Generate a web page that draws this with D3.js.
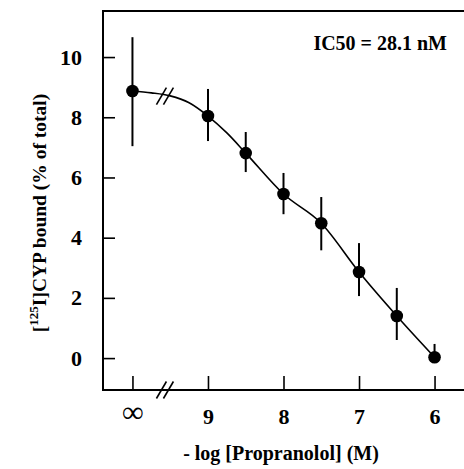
<!DOCTYPE html>
<html>
<head>
<meta charset="utf-8">
<script src="https://cdn.jsdelivr.net/npm/d3@7"></script>
<style>
    body { margin: 0; background: #fff; }
    svg text { font-family: "Liberation Serif", "DejaVu Serif", serif; font-weight: bold; fill: #000; }
</style>
</head>
<body>
<svg id="chart" width="464" height="469"></svg>
<script>
// -log[Propranolol] values; 10 stands in for "infinity" (no drug)
const doses = [10, 9, 8.5, 8, 7.5, 7, 6.5, 6];
const bound = [8.87, 8.04, 6.81, 5.45, 4.48, 2.86, 1.40, 0.03];
const errHigh = [10.66, 8.94, 7.51, 6.15, 5.35, 3.82, 2.33, 0.47];
const errLow = [7.04, 7.21, 6.18, 4.78, 3.58, 2.06, 0.60, -0.15];

// fitted curve
const fitX = [10, 9.75, 9.5, 9.25, 9, 8.75, 8.5, 8, 7.5, 7, 6.5, 6];
const fitY = [8.87, 8.81, 8.71, 8.48, 8.04, 7.48, 6.81, 5.45, 4.48, 2.86, 1.40, 0.03];

const xTickValues = [10, 9, 8, 7, 6];
const xTickLabels = ["\u221E", "9", "8", "7", "6"];
const yTickValues = [0, 2, 4, 6, 8, 10];
const breakAt = 9.57;

const svg = d3.select("#chart");
const plotLeft = 103, plotRight = 464, plotTop = 11, plotBottom = 390;

const x = d3.scaleLinear().domain([10.39, 5.61]).range([plotLeft, plotRight]);
const y = d3.scaleLinear().domain([-1.06, 11.53]).range([plotBottom, plotTop]);

// y axis, ticks pointing inward
const yAxis = svg.append("g")
    .attr("transform", "translate(" + plotLeft + ",0)")
    .call(d3.axisLeft(y).tickValues(yTickValues).tickSize(-12).tickPadding(21));
yAxis.select(".domain").remove();
yAxis.selectAll(".tick line").attr("stroke", "#000").attr("stroke-width", 1.6);
yAxis.selectAll(".tick text").attr("font-size", "22px");

// x axis
const xAxis = svg.append("g")
    .attr("transform", "translate(0," + plotBottom + ")")
    .call(d3.axisBottom(x).tickValues(xTickValues)
        .tickFormat((d, i) => xTickLabels[i]).tickSize(-14).tickPadding(18));
xAxis.select(".domain").remove();
xAxis.selectAll(".tick line").attr("stroke", "#000").attr("stroke-width", 1.6);
xAxis.selectAll(".tick text")
    .attr("font-size", (d, i) => i === 0 ? "30px" : "22px")
    .attr("dy", (d, i) => i === 0 ? "0.45em" : "0.71em");

// frame: left, bottom, top
svg.append("path")
    .attr("d", "M" + plotRight + "," + plotTop + "H" + plotLeft + "V" + plotBottom + "H" + plotRight)
    .attr("fill", "none")
    .attr("stroke", "#000")
    .attr("stroke-width", 2);

// fitted curve
const line = d3.line()
    .x((d, i) => x(fitX[i]))
    .y(d => y(d))
    .curve(d3.curveMonotoneX);
svg.append("path")
    .attr("d", line(fitY))
    .attr("fill", "none")
    .attr("stroke", "#000")
    .attr("stroke-width", 1.6);

// break marks on axis and curve
function breakMarks(cx, cy) {
    [-3.5, 3.5].forEach(off => {
        svg.append("line")
            .attr("x1", cx + off - 5).attr("y1", cy + 8.5)
            .attr("x2", cx + off + 5).attr("y2", cy - 8.5)
            .attr("stroke", "#000")
            .attr("stroke-width", 1.6);
    });
}
breakMarks(x(breakAt), plotBottom);
breakMarks(x(breakAt), y(8.70));

// error bars
svg.append("g")
    .selectAll("line")
    .data(doses)
    .enter()
    .append("line")
    .attr("x1", d => x(d)).attr("x2", d => x(d))
    .attr("y1", (d, i) => y(errHigh[i]))
    .attr("y2", (d, i) => y(errLow[i]))
    .attr("stroke", "#000")
    .attr("stroke-width", 2);

// points
svg.append("g")
    .selectAll("circle")
    .data(doses)
    .enter()
    .append("circle")
    .attr("cx", d => x(d))
    .attr("cy", (d, i) => y(bound[i]))
    .attr("r", 6.3)
    .attr("fill", "#000");

svg.append("text")
    .attr("x", 447)
    .attr("y", 50)
    .attr("text-anchor", "end")
    .attr("font-size", "20px")
    .text("IC50 = 28.1 nM");

svg.append("text")
    .attr("x", 281)
    .attr("y", 460)
    .attr("text-anchor", "middle")
    .attr("font-size", "20px")
    .text("- log [Propranolol] (M)");

const yLabel = svg.append("text")
    .attr("transform", "translate(46,213) rotate(-90)")
    .attr("text-anchor", "middle")
    .attr("font-size", "19.5px");
yLabel.append("tspan").text("[");
yLabel.append("tspan").attr("font-size", "13px").attr("dy", -8).text("125");
yLabel.append("tspan").attr("dy", 8).text("I]CYP bound (% of total)");
</script>
</body>
</html>
